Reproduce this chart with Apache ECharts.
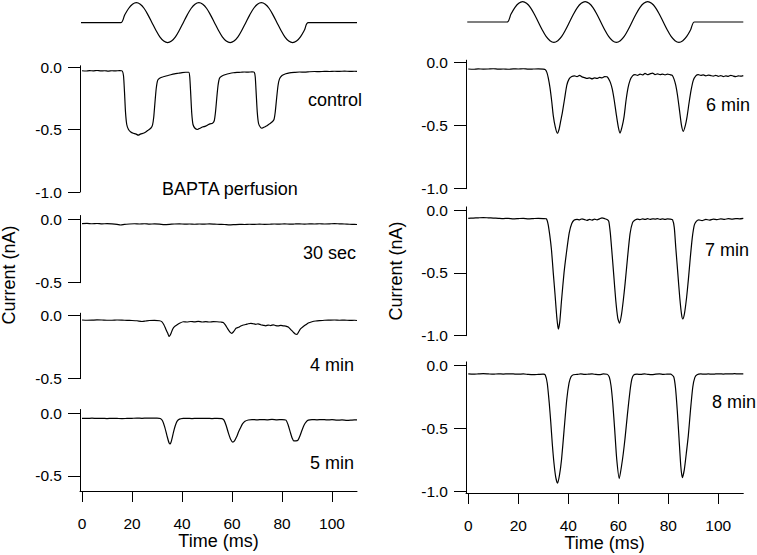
<!DOCTYPE html>
<html><head><meta charset="utf-8">
<script src="https://cdn.jsdelivr.net/npm/echarts@6/dist/echarts.min.js"></script>
<style>html,body{margin:0;padding:0;background:#fff}#c{width:757px;height:555px}</style>
</head><body><div id="c"></div>
<script>
// ---- stimulus (sinusoidal displacement, arbitrary units) ----
const stimTime = [-0.4, 15.5, 17.06, 18.63, 20.19, 21.75, 23.31, 24.88, 26.44, 28.00, 29.56, 31.13, 32.69, 34.25, 35.81, 37.38, 38.94,
  40.50, 42.06, 43.63, 45.19, 46.75, 48.31, 49.88, 51.44, 53.00, 54.56, 56.13, 57.69, 59.25, 60.81, 62.38, 63.94,
  65.50, 67.06, 68.63, 70.19, 71.75, 73.31, 74.88, 76.44, 78.00, 79.56, 81.13, 82.69, 84.25, 85.81, 87.38, 88.94, 90.50, 110];
const stimLevel = [0,
  0,0.38,0.71,0.92,1,0.92,0.71,0.38,0,-0.38,-0.71,-0.92,-1,-0.92,-0.71,-0.38,
  0,0.38,0.71,0.92,1,0.92,0.71,0.38,0,-0.38,-0.71,-0.92,-1,-0.92,-0.71,-0.38,
  0,0.38,0.71,0.92,1,0.92,0.71,0.38,0,-0.38,-0.71,-0.92,-1,-0.92,-0.71,-0.38,
  0, 0];

// ---- current traces [time (ms), current (nA)] ----
const control = [[0,-0.030],[1.5,-0.032],[3,-0.029],[4.5,-0.031],[6,-0.028],[7.5,-0.031],[9,-0.030],[10.5,-0.033],[12,-0.030],[13.5,-0.031],[15,-0.029],[16.1,-0.032],
  [16.6,-0.07],[17.0,-0.2],[17.4,-0.36],[17.9,-0.46],[18.6,-0.50],[19.5,-0.52],[20.5,-0.53],[21.5,-0.535],[22.5,-0.545],[23.5,-0.535],[24.5,-0.53],[25.5,-0.52],[26.5,-0.505],[27.5,-0.49],[28.2,-0.465],[28.7,-0.40],[29.2,-0.28],[29.7,-0.17],[30.3,-0.105],[31.2,-0.088],[32.5,-0.078],[34,-0.07],[35.5,-0.062],[37,-0.055],[38.5,-0.05],[40,-0.045],[41.5,-0.042],[42.7,-0.042],
  [43.1,-0.08],[43.5,-0.22],[43.9,-0.37],[44.4,-0.46],[45.2,-0.49],[46.2,-0.50],[47.2,-0.49],[48.2,-0.48],[49.2,-0.475],[50.2,-0.465],[51.2,-0.455],[52.2,-0.45],[52.9,-0.43],[53.4,-0.36],[53.9,-0.25],[54.4,-0.15],[55,-0.09],[56,-0.072],[57.5,-0.06],[59,-0.052],[60.5,-0.046],[62,-0.043],[63.5,-0.042],[65,-0.04],[66.5,-0.041],[68,-0.039],[68.9,-0.042],
  [69.3,-0.08],[69.7,-0.22],[70.1,-0.36],[70.6,-0.45],[71.3,-0.48],[72,-0.49],[73,-0.48],[74,-0.47],[75,-0.455],[76,-0.44],[76.8,-0.42],[77.3,-0.36],[77.8,-0.26],[78.4,-0.15],[79,-0.095],[80,-0.068],[81.5,-0.054],[83,-0.047],[85,-0.043],[87,-0.04],[89,-0.041],[91,-0.038],[93,-0.036],[95,-0.037],[97,-0.035],[99,-0.036],[101,-0.034],[103,-0.035],[105,-0.033],[107,-0.035],[109,-0.034],[110,-0.035]];

const sec30 = [[0,-0.034],[2,-0.032],[4,-0.035],[6,-0.033],[8,-0.036],[10,-0.034],[12,-0.036],[14,-0.04],[15.5,-0.045],[17,-0.04],[19,-0.037],[21,-0.035],[23,-0.037],[25,-0.035],[27,-0.038],[29,-0.036],[31,-0.038],[33,-0.042],[35,-0.04],[37,-0.037],[39,-0.036],[41,-0.038],[43,-0.037],[45,-0.039],[47,-0.037],[49,-0.038],[51,-0.036],[53,-0.038],[55,-0.04],[57,-0.041],[59,-0.044],[61,-0.042],[63,-0.04],[65,-0.041],[67,-0.039],[69,-0.04],[71,-0.038],[73,-0.04],[75,-0.039],[77,-0.037],[79,-0.038],[81,-0.036],[83,-0.038],[85,-0.037],[87,-0.036],[89,-0.038],[91,-0.036],[93,-0.037],[95,-0.035],[97,-0.037],[99,-0.036],[101,-0.034],[103,-0.036],[105,-0.037],[107,-0.039],[109,-0.04],[110,-0.041]];

const min4 = [[0,-0.034],[2,-0.036],[4,-0.035],[6,-0.033],[8,-0.034],[10,-0.036],[12,-0.036],[14,-0.034],[16,-0.035],[18,-0.037],[20,-0.038],[22,-0.04],[24,-0.046],[25.5,-0.042],[27,-0.038],[29,-0.037],[31,-0.04],[31.9,-0.047],[32.7,-0.07],[33.5,-0.105],[34.3,-0.14],[34.9,-0.165],[35.5,-0.145],[36.3,-0.105],[37.1,-0.085],[37.9,-0.074],[39,-0.06],[40.5,-0.048],[42,-0.05],[43.5,-0.046],[45,-0.049],[46.5,-0.045],[48,-0.05],[49.5,-0.047],[51,-0.05],[52.5,-0.047],[54,-0.048],[55.5,-0.05],[56.5,-0.053],[57.4,-0.075],[58.3,-0.105],[59.2,-0.13],[59.9,-0.14],[60.7,-0.125],[61.6,-0.1],[62.6,-0.092],[63.5,-0.082],[64.5,-0.074],[65.5,-0.07],[66.5,-0.064],[67.5,-0.06],[68.5,-0.064],[69.5,-0.068],[70.5,-0.064],[71.5,-0.072],[72.5,-0.076],[73.5,-0.08],[74.5,-0.074],[75.5,-0.078],[76.5,-0.072],[77.5,-0.078],[78.5,-0.08],[79.5,-0.076],[80.5,-0.08],[81.5,-0.082],[82.5,-0.09],[83.5,-0.11],[84.5,-0.13],[85.3,-0.145],[86,-0.148],[86.6,-0.13],[87.4,-0.105],[88.4,-0.088],[89.5,-0.072],[90.5,-0.058],[92,-0.048],[93.5,-0.042],[95,-0.039],[97,-0.036],[99,-0.035],[101,-0.034],[103,-0.036],[105,-0.035],[107,-0.037],[109,-0.036],[110,-0.038]];

const min5 = [[0,-0.04],[2,-0.041],[4,-0.039],[6,-0.041],[8,-0.04],[10,-0.042],[12,-0.04],[14,-0.041],[16,-0.043],[18,-0.041],[20,-0.04],[22,-0.039],[24,-0.04],[26,-0.038],[28,-0.039],[30,-0.038],[31.3,-0.042],[32.2,-0.06],[33.1,-0.11],[34,-0.18],[34.8,-0.235],[35.3,-0.245],[35.9,-0.21],[36.6,-0.15],[37.3,-0.1],[38,-0.065],[39,-0.047],[40.5,-0.041],[42,-0.04],[44,-0.042],[46,-0.04],[48,-0.041],[50,-0.04],[52,-0.042],[54,-0.041],[56,-0.043],[56.8,-0.055],[57.7,-0.1],[58.6,-0.16],[59.5,-0.21],[60.3,-0.23],[61,-0.22],[61.8,-0.19],[62.6,-0.15],[63.3,-0.12],[64.2,-0.085],[65.2,-0.064],[66.5,-0.054],[68,-0.05],[70,-0.053],[72,-0.05],[74,-0.052],[76,-0.049],[78,-0.052],[80,-0.05],[81.6,-0.055],[82.4,-0.09],[83.3,-0.15],[84.1,-0.2],[84.7,-0.22],[85.6,-0.22],[86.4,-0.215],[87.2,-0.18],[88,-0.135],[88.8,-0.095],[89.6,-0.07],[90.5,-0.055],[92,-0.05],[94,-0.052],[96,-0.05],[98,-0.053],[100,-0.051],[102,-0.055],[104,-0.053],[106,-0.056],[108,-0.054],[110,-0.052]];

const min6 = [[0,-0.05],[2,-0.052],[4,-0.049],[6,-0.051],[8,-0.05],[10,-0.048],[12,-0.051],[14,-0.05],[16,-0.052],[18,-0.049],[20,-0.05],[22,-0.048],[24,-0.051],[26,-0.05],[28,-0.049],[30,-0.051],[30.8,-0.055],[31.4,-0.075],[32,-0.12],[32.7,-0.2],[33.4,-0.31],[34,-0.42],[34.8,-0.51],[35.6,-0.56],[36.3,-0.53],[37,-0.46],[37.6,-0.40],[38.5,-0.29],[39.4,-0.18],[40.3,-0.13],[41.4,-0.11],[42.5,-0.105],[43.5,-0.11],[44.5,-0.1],[45.5,-0.112],[46.5,-0.118],[47.5,-0.125],[48.5,-0.12],[49.5,-0.128],[50.5,-0.12],[51.5,-0.125],[52.5,-0.116],[53.5,-0.12],[54.5,-0.11],[55.5,-0.112],[56.2,-0.13],[56.9,-0.16],[57.6,-0.21],[58.4,-0.3],[59.2,-0.41],[60,-0.51],[60.7,-0.56],[61.5,-0.51],[62.3,-0.43],[63.1,-0.3],[63.9,-0.2],[64.7,-0.14],[65.7,-0.105],[66.7,-0.095],[67.7,-0.1],[68.7,-0.09],[69.7,-0.097],[70.7,-0.085],[71.7,-0.095],[72.7,-0.088],[73.7,-0.082],[74.7,-0.094],[75.7,-0.088],[76.7,-0.095],[77.7,-0.09],[78.7,-0.097],[79.7,-0.09],[80.7,-0.095],[81.6,-0.1],[82.3,-0.13],[83,-0.18],[83.7,-0.26],[84.5,-0.38],[85.3,-0.5],[86,-0.545],[86.8,-0.5],[87.5,-0.43],[88.3,-0.32],[89.1,-0.22],[90,-0.14],[91,-0.105],[92,-0.095],[93,-0.1],[94,-0.097],[95,-0.104],[96,-0.098],[97,-0.102],[98,-0.106],[99,-0.1],[100,-0.108],[101,-0.102],[102,-0.11],[103,-0.104],[104,-0.108],[105,-0.1],[106,-0.106],[107,-0.11],[108,-0.104],[109,-0.107],[110,-0.102]];

const min7 = [[0,-0.066],[2,-0.064],[4,-0.062],[6,-0.06],[8,-0.062],[10,-0.064],[12,-0.066],[14,-0.068],[16,-0.066],[18,-0.07],[20,-0.068],[22,-0.066],[24,-0.07],[26,-0.068],[28,-0.066],[30,-0.068],[31.2,-0.07],[31.9,-0.11],[32.6,-0.2],[33.3,-0.32],[34,-0.5],[34.7,-0.67],[35.4,-0.85],[36,-0.947],[36.6,-0.89],[37.3,-0.72],[38.3,-0.5],[39.4,-0.32],[40.4,-0.18],[41.4,-0.107],[42.4,-0.08],[43.5,-0.074],[44.5,-0.078],[45.5,-0.07],[46.5,-0.076],[47.5,-0.082],[48.5,-0.074],[49.5,-0.08],[50.5,-0.072],[51.5,-0.078],[52.5,-0.07],[53.5,-0.062],[54.5,-0.068],[55.5,-0.075],[56.2,-0.09],[56.8,-0.18],[57.4,-0.32],[58.2,-0.52],[59,-0.72],[59.8,-0.86],[60.5,-0.90],[61.3,-0.83],[62,-0.72],[62.7,-0.59],[63.7,-0.38],[64.7,-0.19],[65.7,-0.1],[66.7,-0.08],[67.7,-0.072],[68.7,-0.076],[69.7,-0.07],[70.7,-0.075],[71.7,-0.069],[72.7,-0.074],[73.7,-0.07],[74.7,-0.072],[75.7,-0.068],[76.7,-0.074],[77.7,-0.07],[78.7,-0.075],[79.7,-0.07],[80.7,-0.072],[81.7,-0.078],[82.4,-0.14],[83,-0.3],[83.8,-0.5],[84.6,-0.7],[85.3,-0.83],[85.8,-0.867],[86.5,-0.82],[87.3,-0.7],[88,-0.56],[88.8,-0.38],[89.6,-0.22],[90.4,-0.12],[91.2,-0.09],[92.2,-0.078],[93.5,-0.085],[95,-0.074],[96.5,-0.08],[98,-0.072],[99.5,-0.076],[101,-0.07],[102.5,-0.074],[104,-0.069],[105.5,-0.072],[107,-0.068],[108.5,-0.07],[110,-0.066]];

const min8 = [[0,-0.066],[2,-0.068],[4,-0.066],[6,-0.064],[8,-0.066],[10,-0.068],[12,-0.065],[14,-0.067],[16,-0.065],[18,-0.066],[20,-0.068],[22,-0.066],[24,-0.07],[26,-0.072],[28,-0.07],[30,-0.068],[30.8,-0.075],[31.6,-0.14],[32.4,-0.3],[33,-0.45],[33.6,-0.62],[34.3,-0.78],[35,-0.89],[35.7,-0.936],[36.5,-0.87],[37.3,-0.75],[38.3,-0.52],[39.4,-0.27],[40.3,-0.14],[41.1,-0.088],[42,-0.072],[43.5,-0.07],[45,-0.066],[46.5,-0.07],[48,-0.068],[49.5,-0.066],[51,-0.07],[52.5,-0.072],[54,-0.066],[55.5,-0.068],[56.4,-0.09],[57.1,-0.16],[57.8,-0.3],[58.6,-0.52],[59.4,-0.75],[60.4,-0.9],[61.3,-0.8],[62,-0.7],[62.7,-0.58],[63.7,-0.38],[64.7,-0.2],[65.4,-0.11],[66.1,-0.075],[67.5,-0.068],[69,-0.07],[70.5,-0.066],[72,-0.07],[73.5,-0.072],[75,-0.068],[76.5,-0.066],[78,-0.07],[79.5,-0.067],[81,-0.068],[82.2,-0.09],[82.9,-0.18],[83.6,-0.36],[84.3,-0.58],[85,-0.8],[85.6,-0.893],[86.4,-0.83],[87.2,-0.7],[88,-0.56],[88.9,-0.35],[89.8,-0.17],[90.6,-0.095],[91.5,-0.072],[93,-0.066],[94.5,-0.068],[96,-0.066],[97.5,-0.068],[99,-0.066],[100.5,-0.065],[102,-0.067],[103.5,-0.065],[105,-0.066],[106.5,-0.064],[108,-0.066],[110,-0.066]];

// ---- tick labels / text ----
const xTicks = [0, 20, 40, 60, 80, 100];
const yTicksFull = [-1.0, -0.5, 0.0];
const yTicksHalf = [-0.5, 0.0];
const traceLabels = ['control', '30 sec', '4 min', '5 min', '6 min', '7 min', '8 min'];
const noteText = 'BAPTA perfusion';
const xTitle = 'Time (ms)';
const yTitle = 'Current (nA)';

// ---- layout ----
const FONT = '"Liberation Sans", Arial, Helvetica, sans-serif';
const L = {left: 80, width: 277, xmin: -0.8};
const R = {left: 466, width: 277.3, xmin: -0.9};
const panels = [
  {col: L, data: control, top: 65.75, height: 126.25, ymin: -1.0, ymax: 0.01, ticks: yTicksFull, bottom: false, lab: [308, 99.5]},
  {col: L, data: sec30, top: 215.5, height: 67.2, ymin: -0.5, ymax: 0.03, ticks: yTicksHalf, bottom: false, lab: [303, 253]},
  {col: L, data: min4, top: 313.2, height: 65.5, ymin: -0.5, ymax: 0.02, ticks: yTicksHalf, bottom: false, lab: [310, 365]},
  {col: L, data: min5, top: 409.5, height: 81.5, ymin: -0.62, ymax: 0.03, ticks: yTicksHalf, bottom: true, lab: [310, 463]},
  {col: R, data: min6, top: 60.2, height: 128.5, ymin: -1.0, ymax: 0.02, ticks: yTicksFull, bottom: false, lab: [706, 105]},
  {col: R, data: min7, top: 206.9, height: 128.8, ymin: -1.0, ymax: 0.025, ticks: yTicksFull, bottom: false, lab: [705, 250]},
  {col: R, data: min8, top: 361.9, height: 131.1, ymin: -1.015, ymax: 0.03, ticks: yTicksFull, bottom: true, lab: [712, 402]}
];
const stims = [
  {col: L, top: 2.7, height: 40},
  {col: R, top: 1.7, height: 40.6}
];

const grids = [], xAxes = [], yAxes = [], series = [];
const stimData = stimTime.map((t, i) => [t, stimLevel[i]]);

panels.forEach((p, i) => {
  grids.push({left: p.col.left, width: p.col.width, top: p.top, height: p.height, containLabel: false});
  xAxes.push({
    gridIndex: i, type: 'value', min: p.col.xmin, max: 110, show: p.bottom,
    axisLine: {show: true, onZero: false, lineStyle: {color: '#000', width: 1}},
    axisTick: {show: true, length: 11, customValues: xTicks, lineStyle: {color: '#000', width: 1}},
    axisLabel: {customValues: xTicks, margin: 24, fontSize: 15.5, color: '#000', fontFamily: FONT},
    splitLine: {show: false},
    name: p.bottom ? xTitle : '', nameLocation: 'middle', nameGap: 35,
    nameTextStyle: {fontSize: 18, color: '#000', fontFamily: FONT}
  });
  yAxes.push({
    gridIndex: i, type: 'value', min: p.ymin, max: p.ymax,
    axisLine: {show: true, onZero: false, lineStyle: {color: '#000', width: 1}},
    axisTick: {show: true, length: 12, customValues: p.ticks, lineStyle: {color: '#000', width: 1}},
    axisLabel: {customValues: p.ticks, margin: 18, fontSize: 15.5, color: '#000', fontFamily: FONT,
      formatter: v => (Math.abs(v) < 1e-9 ? 0 : v).toFixed(1)},
    splitLine: {show: false}
  });
  series.push({
    type: 'line', xAxisIndex: i, yAxisIndex: i, data: p.data, showSymbol: false, symbol: 'none',
    smooth: 0.2, clip: false, lineStyle: {color: '#000', width: 1.2}, animation: false
  });
});

stims.forEach((s, j) => {
  const gi = panels.length + j;
  grids.push({left: s.col.left, width: s.col.width, top: s.top, height: s.height});
  xAxes.push({gridIndex: gi, type: 'value', min: s.col.xmin, max: 110, show: false});
  yAxes.push({gridIndex: gi, type: 'value', min: -1, max: 1, show: false});
  series.push({
    type: 'line', xAxisIndex: gi, yAxisIndex: gi, data: stimData, showSymbol: false, symbol: 'none',
    smooth: 0.3, clip: false, lineStyle: {color: '#000', width: 1.2}, animation: false
  });
});

const graphics = panels.map((p, i) => ({
  type: 'text', x: p.lab[0], y: p.lab[1],
  style: {text: traceLabels[i], fill: '#000', font: '18px ' + FONT, align: 'left', verticalAlign: 'middle'}
}));
graphics.push({type: 'text', x: 162, y: 189,
  style: {text: noteText, fill: '#000', font: '18px ' + FONT, align: 'left', verticalAlign: 'middle'}});
[[8.5, 275], [396, 271]].forEach(([x, y]) => graphics.push({
  type: 'text', x: x, y: y, rotation: Math.PI / 2,
  style: {text: yTitle, fill: '#000', font: '18px ' + FONT, align: 'center', verticalAlign: 'middle'}
}));

const chart = echarts.init(document.getElementById('c'), null, {renderer: 'svg', width: 757, height: 555});
chart.setOption({
  animation: false,
  backgroundColor: '#fff',
  textStyle: {fontFamily: FONT},
  grid: grids, xAxis: xAxes, yAxis: yAxes, series: series,
  graphic: graphics
});
</script></body></html>
